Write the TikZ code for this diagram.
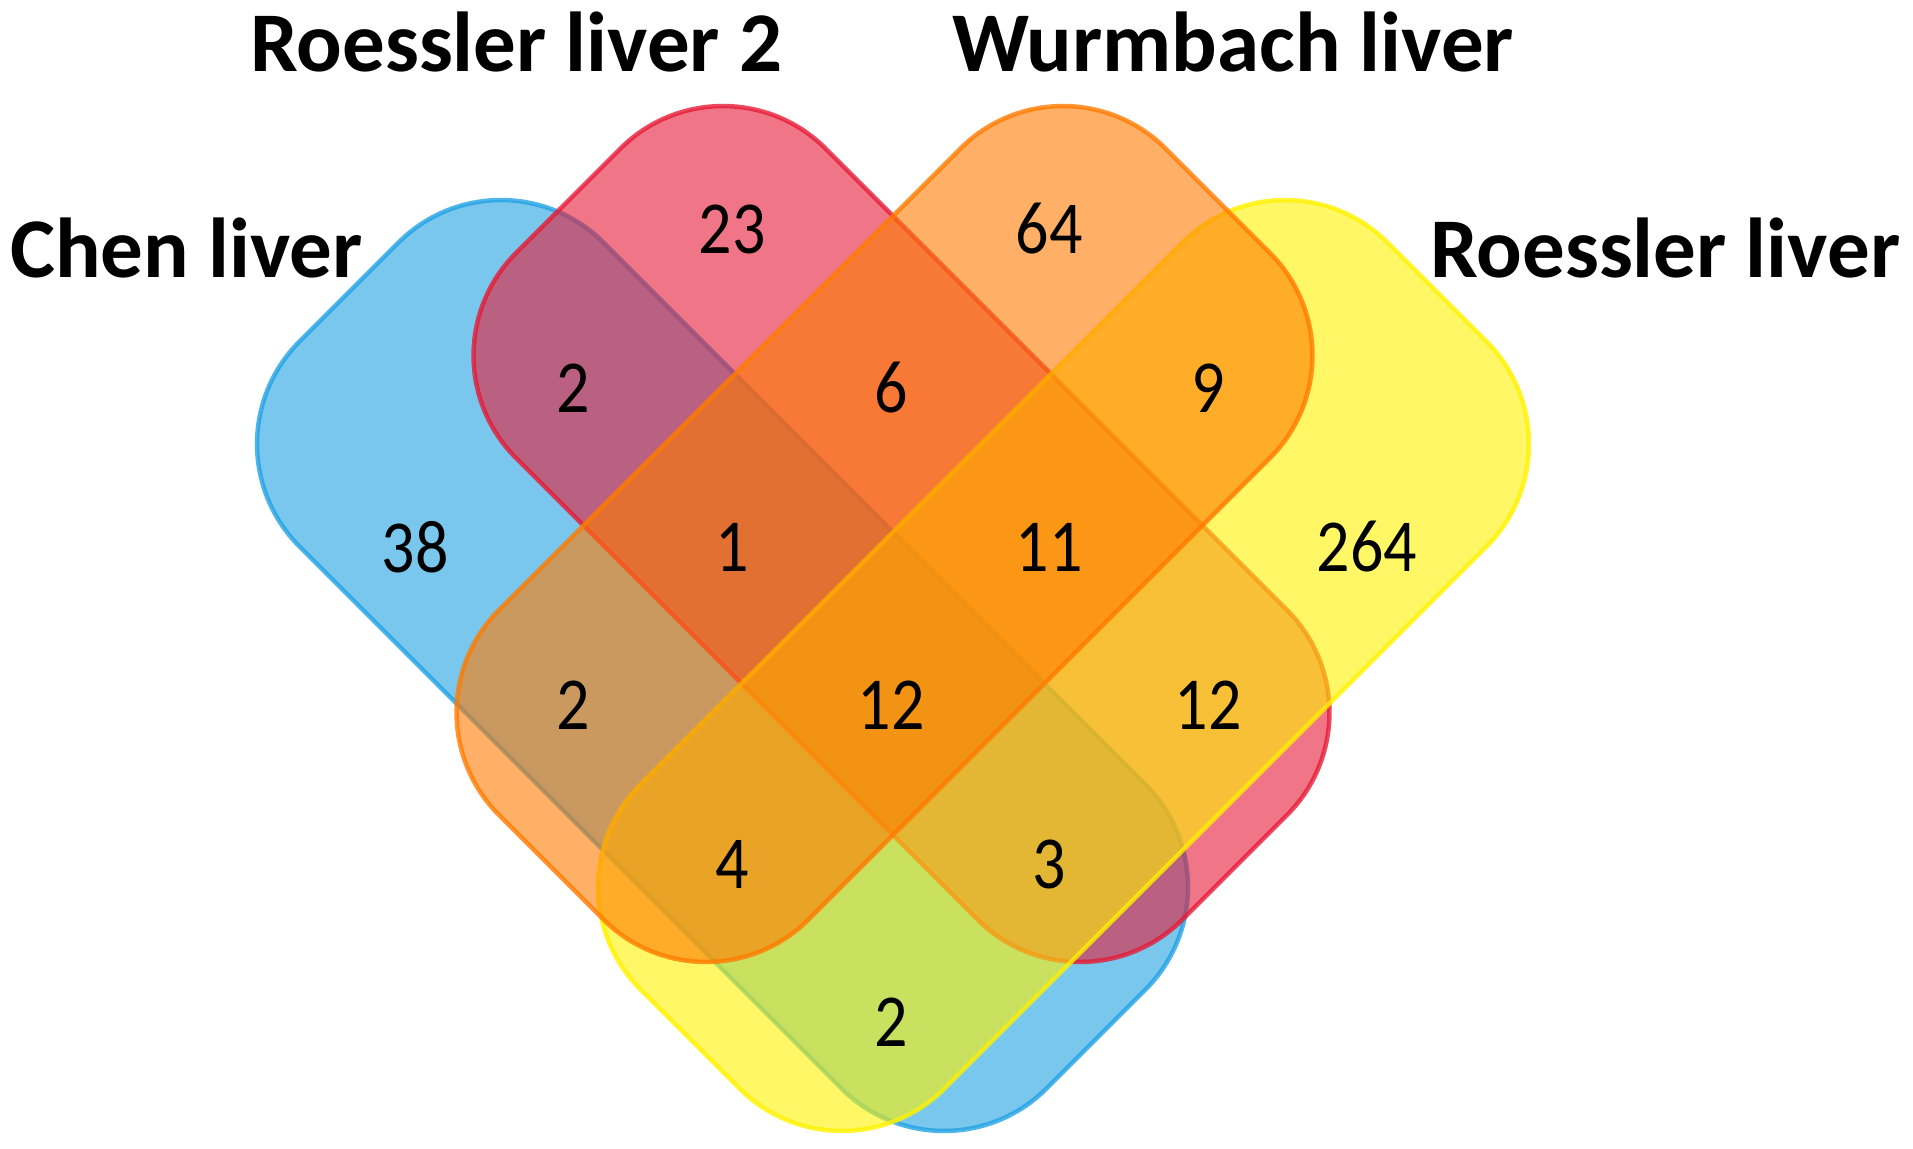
\documentclass[tikz,border=0pt]{standalone}
\usepackage{fontspec}
\setmainfont{Carlito}
\definecolor{cblue}{RGB}{33,162,227}
\definecolor{cred}{RGB}{230,27,55}
\definecolor{corange}{RGB}{255,123,0}
\definecolor{cyellow}{RGB}{255,242,0}
\newcommand{\tallnum}[1]{\scalebox{0.97}[1.1]{#1}}
\begin{document}
\begin{tikzpicture}[x=1pt,y=-1pt,
  setshape/.style={line width=4.5pt, fill opacity=0.6, draw opacity=0.8, rounded corners=145pt, line join=round},
  count/.style={font=\fontsize{68}{80}\selectfont, text=black, inner sep=0pt},
  settitle/.style={font=\fontsize{85}{100}\selectfont\bfseries, text=black, inner sep=0pt, anchor=base west}]
\useasboundingbox (0,0) rectangle (1913,1148);
% Chen liver (blue)
\draw[setshape, draw=cblue, fill=cblue] (501,140) -- (1248,887) -- (944,1191) -- (197,444) -- cycle;
% Roessler liver 2 (red)
\draw[setshape, draw=cred, fill=cred] (723,46) -- (1389.5,712.5) -- (1080,1022) -- (413.5,355.5) -- cycle;
% Roessler liver (yellow)
\draw[setshape, draw=cyellow, fill=cyellow] (1285,140) -- (1589,444) -- (842,1191) -- (538,887) -- cycle;
% Wurmbach liver (orange)
\draw[setshape, draw=corange, fill=corange] (1063,46) -- (1372.5,355.5) -- (706,1022) -- (396.5,712.5) -- cycle;
% titles
\node[settitle] (tR2) at (250,71) {Roessler liver 2};
\node[settitle] (tW) at (952,71) {Wurmbach liver};
\node[settitle] (tC) at (10,277) {Chen liver};
\node[settitle] (tR) at (1430,277) {Roessler liver};
% counts
\node[count] (n23) at (732,229) {\tallnum{23}};
\node[count] (n64) at (1049,229) {\tallnum{64}};
\node[count] (nbr) at (573,388) {\tallnum{2}};
\node[count] (nro) at (891,388) {\tallnum{6}};
\node[count] (noy) at (1208,388) {\tallnum{9}};
\node[count] (nb) at (415,547) {\tallnum{38}};
\node[count] (nbro) at (732,547) {\tallnum{1}};
\node[count] (nroy) at (1049,547) {\tallnum{11}};
\node[count] (ny) at (1367,547) {\tallnum{264}};
\node[count] (nbo) at (573,705) {\tallnum{2}};
\node[count] (nall) at (891,705) {\tallnum{12}};
\node[count] (nry) at (1208,705) {\tallnum{12}};
\node[count] (nboy) at (732,864) {\tallnum{4}};
\node[count] (nbry) at (1049,864) {\tallnum{3}};
\node[count] (nby) at (891,1022) {\tallnum{2}};
\end{tikzpicture}
\end{document}
